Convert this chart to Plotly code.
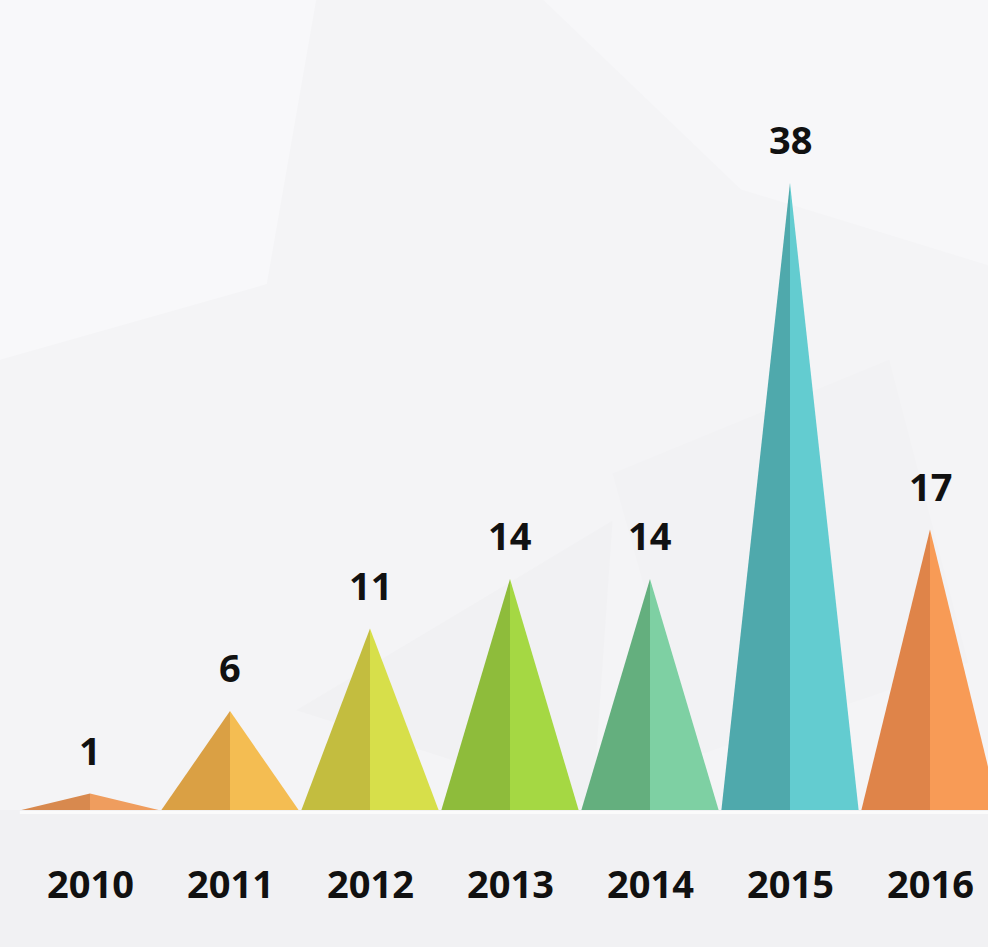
import plotly.graph_objects as go

years = ["2010", "2011", "2012", "2013", "2014", "2015", "2016"]
values = [1, 6, 11, 14, 14, 38, 17]
left_colors = ["#D8894E", "#DAA044", "#C3BD3F", "#8EBC3B", "#64AF7E", "#4FA9AC", "#DF8449"]
right_colors = ["#EF9D5E", "#F4BD52", "#D7DF4A", "#A5D843", "#7ED0A3", "#63CCD0", "#F89B56"]

W, H = 988, 947
px_per_unit = 16.5
base_px = 810
x0_px, step_px = 90, 140
half_w = 0.49

y_lo = -(H - base_px) / px_per_unit
y_hi = base_px / px_per_unit
x_lo = -x0_px / step_px
x_hi = (W - x0_px) / step_px

fig = go.Figure()

for i, (yr, v) in enumerate(zip(years, values)):
    fig.add_trace(go.Scatter(
        x=[i - half_w, i, i, i - half_w], y=[0, v, 0, 0],
        fill="toself", fillcolor=left_colors[i], mode="lines",
        line=dict(width=0, color=left_colors[i]), hoverinfo="skip", showlegend=False))
    fig.add_trace(go.Scatter(
        x=[i, i + half_w, i, i], y=[0, 0, v, 0],
        fill="toself", fillcolor=right_colors[i], mode="lines",
        line=dict(width=0, color=right_colors[i]), hoverinfo="skip", showlegend=False))

label_font = dict(family="Open Sans", size=38, color="#111111", weight="bold")
annotations = []
for i, (yr, v) in enumerate(zip(years, values)):
    annotations.append(dict(x=i, y=v, text=f"<b>{v}</b>", showarrow=False, yshift=44,
                            font=label_font, xanchor="center", yanchor="middle"))
    annotations.append(dict(x=i, y=0, text=f"<b>{yr}</b>", showarrow=False, yshift=-73,
                            font=label_font, xanchor="center", yanchor="middle"))

# faint background facets (decorative)
shapes = [
    dict(type="path", xref="paper", yref="paper", layer="below",
         path="M 0 1 L 0.32 1 L 0.27 0.7 L 0 0.62 Z", fillcolor="#F8F8FA", line=dict(width=0)),
    dict(type="path", xref="paper", yref="paper", layer="below",
         path="M 0.55 1 L 1 1 L 1 0.72 L 0.75 0.8 Z", fillcolor="#F7F7F9", line=dict(width=0)),
    dict(type="path", xref="paper", yref="paper", layer="below",
         path="M 0.3 0.25 L 0.62 0.45 L 0.6 0.15 Z", fillcolor="#F1F1F3", line=dict(width=0)),
    dict(type="path", xref="paper", yref="paper", layer="below",
         path="M 0.62 0.5 L 0.9 0.62 L 0.98 0.3 L 0.7 0.2 Z", fillcolor="#F2F2F4", line=dict(width=0)),
    dict(type="rect", xref="paper", yref="paper", layer="below",
         x0=0, x1=1, y0=0, y1=(H - base_px) / H, fillcolor="#F1F1F3", line=dict(width=0)),
    dict(type="line", xref="paper", yref="y", layer="below",
         x0=0.02, x1=1, y0=-0.15, y1=-0.15, line=dict(color="#FBFBFB", width=3)),
]

fig.update_layout(
    width=W, height=H,
    margin=dict(l=0, r=0, t=0, b=0),
    paper_bgcolor="#F4F4F6", plot_bgcolor="rgba(0,0,0,0)",
    xaxis=dict(range=[x_lo, x_hi], visible=False, fixedrange=True),
    yaxis=dict(range=[y_lo, y_hi], visible=False, fixedrange=True),
    annotations=annotations, shapes=shapes, showlegend=False,
)

fig.write_html("out.html", config={"displayModeBar": False},
               post_script="document.body.style.margin='0px';document.body.style.overflow='hidden';")
